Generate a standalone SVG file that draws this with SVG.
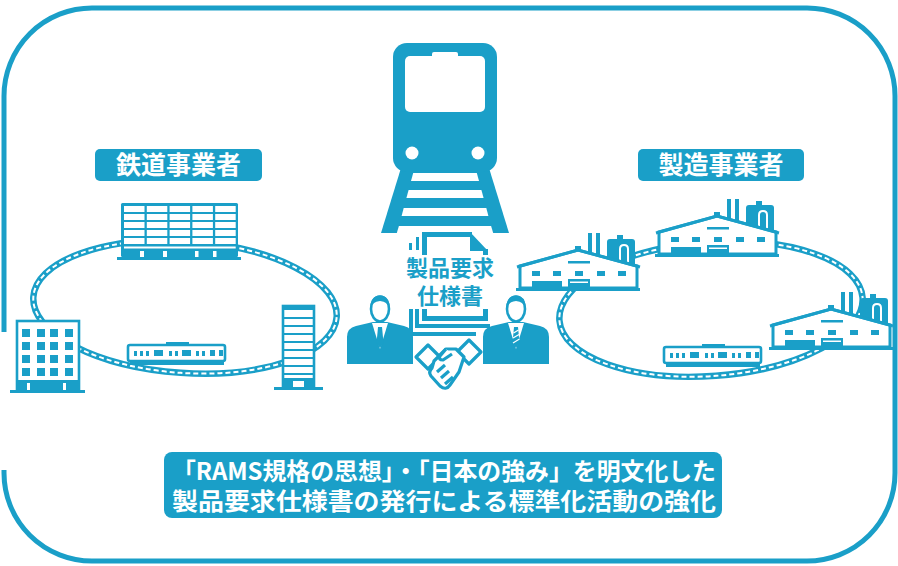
<svg xmlns="http://www.w3.org/2000/svg" xmlns:xlink="http://www.w3.org/1999/xlink" width="898" height="566" viewBox="0 0 898 566">
  <style>
    .b { fill: #1a9fc8; }
    .w { fill: #ffffff; }
    .ol { fill: #ffffff; stroke: #1a9fc8; stroke-width: 2.6; }
    .frame { fill: none; stroke: #1a9fc8; stroke-width: 5; }
    .rail { fill: none; stroke: #1a9fc8; stroke-width: 6.5; }
    .rail-c { fill: none; stroke: #ffffff; stroke-width: 2; stroke-dasharray: 5 3; }
    .tag { font-family: "Noto Sans CJK JP", "Noto Sans", sans-serif; font-weight: 700; fill: #ffffff; }
    .doc { font-family: "Noto Sans CJK JP", "Noto Sans", sans-serif; font-weight: 700; fill: #1a9fc8; }
  </style>
  <defs>
    <!-- small commuter train, origin at top-left of the car body -->
    <g id="car">
      <rect class="b" x="39" y="-3" width="23" height="4"/>
      <rect class="ol" x="1" y="0" width="97" height="16" rx="2"/>
      <rect class="b" x="7" y="6" width="3" height="5"/>
      <rect class="b" x="13" y="6" width="3" height="5"/>
      <rect class="b" x="19" y="6" width="3" height="5"/>
      <rect class="b" x="27" y="5" width="9" height="6"/>
      <rect class="b" x="42" y="6" width="3" height="5"/>
      <rect class="b" x="48" y="6" width="3" height="5"/>
      <rect class="b" x="55" y="5" width="9" height="6"/>
      <rect class="b" x="69" y="6" width="3" height="5"/>
      <rect class="b" x="75" y="6" width="3" height="5"/>
      <rect class="b" x="83" y="5" width="5" height="6"/>
      <rect class="b" x="92" y="5" width="4" height="6"/>
      <rect class="b" x="3" y="17" width="94" height="3"/>
    </g>
    <!-- factory with chimneys and tank, origin at left end of the ground line -->
    <g id="factory">
      <rect class="b" x="72" y="-57" width="4" height="26"/>
      <rect class="b" x="80" y="-57" width="4" height="28"/>
      <rect class="b" x="101" y="-55" width="6" height="5"/>
      <rect class="b" x="91" y="-51" width="28" height="30" rx="3"/>
      <path d="M104,-27 V-41 Q104,-45 108,-45 Q112,-45 112,-41 V-27" fill="none" stroke="#ffffff" stroke-width="2"/>
      <rect class="b" x="59" y="-44" width="6" height="5"/>
      <path d="M4,-2 V-24 L62,-40 L121,-24 V-2 Z" fill="#ffffff" stroke="#1a9fc8" stroke-width="3" stroke-linejoin="miter"/>
      <path d="M1,-23 L62,-40 L124,-23" fill="none" stroke="#1a9fc8" stroke-width="3"/>
      <rect class="b" x="52" y="-29" width="22" height="2.5"/>
      <rect class="b" x="16" y="-19" width="8" height="5"/>
      <rect class="b" x="37" y="-19" width="8" height="5"/>
      <rect class="b" x="59" y="-19" width="8" height="5"/>
      <rect class="b" x="81" y="-19" width="8" height="5"/>
      <rect class="b" x="102" y="-19" width="8" height="5"/>
      <rect class="b" x="16" y="-9" width="30" height="8"/>
      <rect class="b" x="52" y="-11" width="22" height="10"/>
      <rect class="w" x="54" y="-8.5" width="18" height="1.5"/>
      <rect class="b" x="0" y="-2" width="124" height="3"/>
    </g>
  </defs>

  <!-- outer rounded frame, open on the left side -->
  <path class="frame" d="M4,332 V96 A88,88 0 0 1 92,8 H807 A88,88 0 0 1 895,96 V473 A88,88 0 0 1 807,561 H92 A88,88 0 0 1 4,473 V470"/>

  <!-- looping rail lines -->
  <g id="tracks">
    <ellipse class="rail" cx="185" cy="307" rx="152" ry="66" transform="rotate(3.8 185 307)"/>
    <ellipse class="rail-c" cx="185" cy="307" rx="152" ry="66" transform="rotate(3.8 185 307)"/>
    <ellipse class="rail" cx="711" cy="309" rx="152" ry="67" transform="rotate(-4.3 711 309)"/>
    <ellipse class="rail-c" cx="711" cy="309" rx="152" ry="67" transform="rotate(-4.3 711 309)"/>
  </g>

  <!-- front view of a train on its track -->
  <g id="train-front">
    <polygon class="b" points="401,168 489,168 509,233 381,233"/>
    <polygon class="w" points="413.2,173 476.8,173 479,181 411,181"/>
    <polygon class="w" points="408.6,190 481.4,190 483.6,198 406.4,198"/>
    <polygon class="w" points="403.7,208 486.3,208 488.4,216 401.6,216"/>
    <polygon class="w" points="398.9,226 491.1,226 493.5,234 396.5,234"/>
    <rect class="b" x="393" y="43" width="104" height="129" rx="14"/>
    <rect class="w" x="405" y="56" width="80" height="56" rx="5"/>
    <rect class="w" x="432" y="52" width="26" height="8" rx="2"/>
    <circle class="w" cx="412" cy="153" r="6.5"/>
    <circle class="w" cx="478" cy="153" r="6.5"/>
  </g>

  <!-- railway operator side -->
  <g id="label-operator">
    <rect class="b" x="95" y="149" width="167" height="32" rx="5"/>
    <text class="tag" x="178.5" y="174" font-size="25" text-anchor="middle">鉄道事業者</text>
  </g>

  <g id="office-top">
    <rect class="b" x="121" y="203" width="117" height="54" rx="1.5"/>
    <g class="w">
      <rect x="124" y="206" width="20.5" height="6"/><rect x="146.8" y="206" width="20.5" height="6"/><rect x="169.6" y="206" width="20.5" height="6"/><rect x="192.4" y="206" width="20.5" height="6"/><rect x="215.2" y="206" width="20.5" height="6"/>
      <rect x="124" y="214" width="20.5" height="6"/><rect x="146.8" y="214" width="20.5" height="6"/><rect x="169.6" y="214" width="20.5" height="6"/><rect x="192.4" y="214" width="20.5" height="6"/><rect x="215.2" y="214" width="20.5" height="6"/>
      <rect x="124" y="222" width="20.5" height="6"/><rect x="146.8" y="222" width="20.5" height="6"/><rect x="169.6" y="222" width="20.5" height="6"/><rect x="192.4" y="222" width="20.5" height="6"/><rect x="215.2" y="222" width="20.5" height="6"/>
      <rect x="124" y="230" width="20.5" height="6"/><rect x="146.8" y="230" width="20.5" height="6"/><rect x="169.6" y="230" width="20.5" height="6"/><rect x="192.4" y="230" width="20.5" height="6"/><rect x="215.2" y="230" width="20.5" height="6"/>
      <rect x="124" y="238" width="20.5" height="6"/><rect x="146.8" y="238" width="20.5" height="6"/><rect x="169.6" y="238" width="20.5" height="6"/><rect x="192.4" y="238" width="20.5" height="6"/><rect x="215.2" y="238" width="20.5" height="6"/>
      <rect x="124" y="246.5" width="111.7" height="2"/>
      <rect x="140" y="251" width="4" height="6"/><rect x="163" y="251" width="4" height="6"/><rect x="195" y="251" width="3.5" height="6"/><rect x="213" y="251" width="3.5" height="6"/>
    </g>
    <rect class="b" x="117" y="257" width="124" height="3"/>
  </g>

  <g id="office-left">
    <rect class="ol" x="17" y="321" width="62" height="69" stroke-width="3"/>
    <g class="b">
      <rect x="22" y="329" width="8" height="8"/><rect x="37" y="329" width="8" height="8"/><rect x="50" y="329" width="8" height="8"/><rect x="65" y="329" width="8" height="8"/>
      <rect x="22" y="342" width="8" height="8"/><rect x="37" y="342" width="8" height="8"/><rect x="50" y="342" width="8" height="8"/><rect x="65" y="342" width="8" height="8"/>
      <rect x="22" y="355" width="8" height="8"/><rect x="37" y="355" width="8" height="8"/><rect x="50" y="355" width="8" height="8"/><rect x="65" y="355" width="8" height="8"/>
      <rect x="22" y="368" width="8" height="8"/><rect x="37" y="368" width="8" height="8"/><rect x="50" y="368" width="8" height="8"/><rect x="65" y="368" width="8" height="8"/>
      <rect x="18" y="380" width="60" height="10"/>
      <rect x="10" y="390" width="75" height="3"/>
    </g>
    <rect class="w" x="27" y="383" width="3" height="7"/>
    <rect class="w" x="63" y="383" width="3" height="7"/>
  </g>

  <g id="office-tall">
    <rect class="ol" x="283" y="306" width="31" height="82"/>
    <g class="b">
      <rect x="283" y="305" width="31" height="5"/>
      <rect x="283" y="317" width="31" height="2"/><rect x="283" y="325" width="31" height="2"/><rect x="283" y="333" width="31" height="2"/><rect x="283" y="341" width="31" height="2"/><rect x="283" y="349" width="31" height="2"/><rect x="283" y="357" width="31" height="2"/><rect x="283" y="365" width="31" height="2"/><rect x="283" y="373" width="31" height="2"/>
      <rect x="283" y="378" width="31" height="10"/>
      <rect x="274" y="387" width="49" height="3"/>
    </g>
    <rect class="w" x="293" y="381" width="11" height="6"/>
  </g>

  <g id="train-left">
    <use xlink:href="#car" href="#car" transform="translate(127 345)"/>
  </g>

  <!-- manufacturer side -->
  <g id="label-maker">
    <rect class="b" x="638" y="149" width="166" height="32" rx="5"/>
    <text class="tag" x="721" y="174" font-size="25" text-anchor="middle">製造事業者</text>
  </g>

  <g id="factory-top">
    <use xlink:href="#factory" href="#factory" transform="translate(655 256)"/>
  </g>
  <g id="factory-left">
    <use xlink:href="#factory" href="#factory" transform="translate(516 290)"/>
  </g>
  <g id="factory-right">
    <use xlink:href="#factory" href="#factory" transform="translate(769 349)"/>
  </g>

  <g id="train-right">
    <use xlink:href="#car" href="#car" transform="translate(663 347)"/>
  </g>

  <!-- product requirement specification document -->
  <g id="spec-doc">
    <g class="b">
      <rect x="409" y="243" width="3" height="7"/>
      <rect x="416" y="237" width="3" height="13"/>
      <rect x="422" y="232" width="50" height="5"/>
      <rect x="422" y="232" width="5" height="24"/>
      <polygon points="470,232 488,251 470,251"/>
      <rect x="483" y="249" width="5" height="72"/>
      <rect x="422" y="286" width="5" height="35"/>
      <rect x="422" y="316" width="66" height="5"/>
      <rect x="415" y="285" width="4" height="43"/>
      <rect x="415" y="324" width="75" height="4"/>
      <rect x="409" y="292" width="4" height="44"/>
      <rect x="409" y="332" width="67" height="4"/>
    </g>
    <rect class="w" x="400" y="255" width="100" height="54"/>
    <text class="doc" font-size="22" text-anchor="middle"><tspan x="450" y="276">製品要求</tspan><tspan x="450" y="304">仕様書</tspan></text>
  </g>

  <g id="person-left">
    <path class="b" d="M347,364 V337 Q347,328 356,326 L373,322 L387,322 L404,326 Q413,328 413,337 V364 Z"/>
    <polygon class="w" points="372,323 388,323 380,349"/>
    <polygon class="b" points="378,327 382,327 383.5,343 380,348 376.5,343"/>
    <ellipse cx="380" cy="309" rx="9" ry="12.5" fill="#ffffff" stroke="#1a9fc8" stroke-width="2.6"/>
    <path class="b" d="M370.5,308 Q370,296 380,295.5 Q390,296 389.5,308 Q388,302 380,301 Q372,302 370.5,308 Z"/>
  </g>

  <g id="person-right">
    <path class="b" d="M483,364 V337 Q483,328 492,326 L509,322 L523,322 L540,326 Q549,328 549,337 V364 Z"/>
    <polygon class="w" points="508,323 524,323 516,349"/>
    <polygon class="b" points="514,327 518,327 519.5,343 516,348 512.5,343"/>
    <g stroke="#ffffff" stroke-width="1.3">
      <line x1="513.5" y1="333" x2="518.5" y2="330"/>
      <line x1="513" y1="338" x2="519" y2="334.5"/>
      <line x1="513" y1="343" x2="519.5" y2="339"/>
    </g>
    <ellipse cx="516" cy="309" rx="9" ry="12.5" fill="#ffffff" stroke="#1a9fc8" stroke-width="2.6"/>
    <path class="b" d="M506.5,308 Q506,296 516,295.5 Q526,296 525.5,308 Q524,302 516,301 Q508,302 506.5,308 Z"/>
  </g>

  <g id="handshake" fill="#ffffff" stroke="#1a9fc8" stroke-width="3.2" stroke-linejoin="round">
    <polygon points="416,357 428,345 440,357 428,369"/>
    <polygon points="457,352 469,340 481,352 469,364"/>
    <path d="M434,361 L446,349 L456,349 L464,357 L459,372 L450,385 Q446,391 440,386 L431,376 Q428,372 432,368 Z"/>
    <path d="M446,349 L440,356 Q438,360 443,360 L452,354"/>
    <line x1="437" y1="372" x2="445" y2="365"/>
    <line x1="441" y1="378" x2="449" y2="371"/>
    <line x1="445" y1="384" x2="453" y2="377"/>
  </g>

  <!-- summary banner -->
  <g id="summary">
    <rect class="b" x="164" y="452" width="558" height="66" rx="8"/>
    <text class="tag" font-size="24"><tspan x="172" y="480" textLength="544" lengthAdjust="spacingAndGlyphs">「RAMS規格の思想」・「日本の強み」を明文化した</tspan><tspan x="172" y="510" textLength="544" lengthAdjust="spacingAndGlyphs">製品要求仕様書の発行による標準化活動の強化</tspan></text>
  </g>
</svg>
